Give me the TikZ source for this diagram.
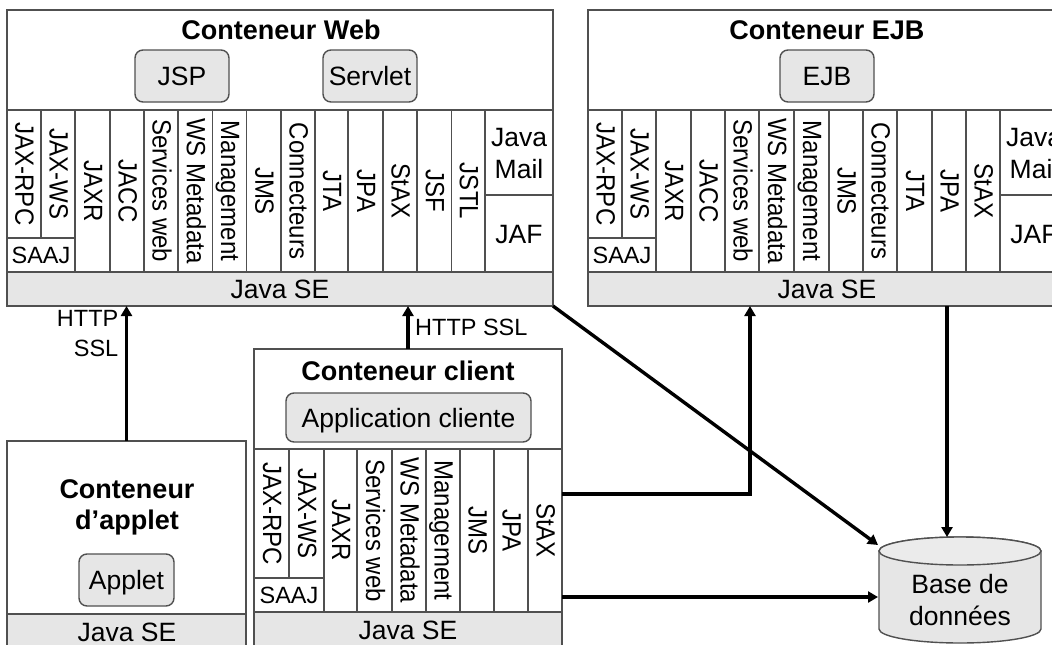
\documentclass[tikz,border=0pt]{standalone}
\usepackage{fontspec}
\usepackage{graphicx}
\setmainfont{Liberation Sans}
\usetikzlibrary{arrows.meta,calc}
\definecolor{lineg}{HTML}{505050}
\definecolor{fillg}{HTML}{E6E6E6}
\tikzset{
  cellline/.style={draw=lineg,line width=1.2pt},
  wrapbox/.style={draw=lineg,line width=1.4pt,fill=white,rectangle,inner sep=0pt,outer sep=0pt},
  sebar/.style={draw=lineg,line width=1.4pt,fill=fillg,rectangle,inner sep=0pt,outer sep=0pt},
  compbox/.style={draw=lineg,line width=1.4pt,fill=fillg,rectangle,rounded corners=8pt,inner sep=0pt,outer sep=0pt},
  lbl/.style={font=\fontsize{26.5}{32}\selectfont,inner sep=0pt,text height=19pt,text depth=0pt},
  small/.style={font=\fontsize{23.5}{30}\selectfont,inner sep=0pt,text height=17pt,text depth=0pt},
  mlbl/.style={font=\fontsize{26.5}{32}\selectfont,inner sep=0pt,align=center},
  ttl/.style={font=\fontsize{27}{30}\selectfont\bfseries,inner sep=0pt,text height=19pt,text depth=0pt},
  vlbl/.style={font=\fontsize{24}{30}\selectfont,inner sep=0pt,rotate=-90,text height=17pt,text depth=0pt},
  flow/.style={draw=black,line width=3.4pt,-{Triangle[length=10pt,width=11pt]}},
}
% name, x1, y1, x2, y2, text
\newcommand\vcell[6]{%
  \draw[cellline] (#2,-#3) rectangle (#4,-#5);
  \node[vlbl] (#1) at ({(#2+#4)/2},{-(#3+#5)/2}) {\scalebox{1}[1.1]{#6}};}
\newcommand\hcell[7][lbl]{%
  \draw[cellline] (#3,-#4) rectangle (#5,-#6);
  \node[#1] (#2) at ({(#3+#5)/2},{-(#4+#6)/2}) {#7};}
\newcommand\mcell[6]{%
  \draw[cellline] (#2,-#3) rectangle (#4,-#5);
  \node[mlbl] (#1) at ({(#2+#4)/2},{-(#3+#5)/2-1}) {#6};}
\newcommand\panel[6]{% name x1 y1 x2 y2 (wrap)
  \node[#6,minimum width={#4-#2},minimum height={#5-#3},anchor=north west] (#1) at (#2,-#3) {};}
\begin{document}
\begin{tikzpicture}[x=1pt,y=1pt]
\useasboundingbox (0,0) rectangle (1052,-645);
\clip (0,0) rectangle (1052,-645);
\fill[white] (0,0) rectangle (1052,-645);

% ---- Web container
\panel{web}{7}{10}{553}{110}{wrapbox}
\node[ttl] (webt) at (281,-30) {Conteneur Web};
\node[compbox,minimum width=94pt,minimum height=52pt,lbl] (jsp) at (182,-76) {JSP};
\node[compbox,minimum width=94pt,minimum height=52pt,lbl] (servlet) at (370,-76) {Servlet};
\vcell{wa}{7}{110}{41}{238}{JAX-RPC}
\vcell{wb}{41}{110}{75}{238}{JAX-WS}
\hcell[small]{wc}{7}{238}{75}{272}{SAAJ}
\vcell{wd}{75}{110}{110}{272}{JAXR}
\vcell{we}{110}{110}{144}{272}{JACC}
\vcell{wf}{144}{110}{178}{272}{Services web}
\vcell{wg}{178}{110}{212.5}{272}{WS Metadata}
\vcell{wh}{212.5}{110}{246.5}{272}{Management}
\vcell{wi}{246.5}{110}{281}{272}{JMS}
\vcell{wj}{281}{110}{315}{272}{Connecteurs}
\vcell{wk}{315}{110}{348}{272}{JTA}
\vcell{wl}{348}{110}{383}{272}{JPA}
\vcell{wm}{383}{110}{417}{272}{StAX}
\vcell{wn}{417}{110}{451.5}{272}{JSF}
\vcell{wo}{451.5}{110}{485}{272}{JSTL}
\mcell{wp}{485}{110}{553}{195}{Java\\Mail}
\hcell{wq}{485}{195}{553}{272}{JAF}
\panel{webse}{7}{272}{553}{306}{sebar}
\node[lbl] (webset) at (webse) {Java SE};

% ---- EJB container
\panel{ejb}{588}{10}{1068}{110}{wrapbox}
\node[ttl] (ejbt) at (827,-30) {Conteneur EJB};
\node[compbox,minimum width=94pt,minimum height=52pt,lbl] (ejbc) at (827,-76) {EJB};
\vcell{ea}{588}{110}{622}{238}{JAX-RPC}
\vcell{eb}{622}{110}{656}{238}{JAX-WS}
\hcell[small]{ec}{588}{238}{656}{272}{SAAJ}
\vcell{ed}{656}{110}{691}{272}{JAXR}
\vcell{ee}{691}{110}{725}{272}{JACC}
\vcell{ef}{725}{110}{759}{272}{Services web}
\vcell{eg}{759}{110}{794}{272}{WS Metadata}
\vcell{eh}{794}{110}{829}{272}{Management}
\vcell{ei}{829}{110}{863}{272}{JMS}
\vcell{ej}{863}{110}{897}{272}{Connecteurs}
\vcell{ek}{897}{110}{932}{272}{JTA}
\vcell{el}{932}{110}{966}{272}{JPA}
\vcell{em}{966}{110}{1000}{272}{StAX}
\mcell{ep}{1000}{110}{1068}{195}{Java\\Mail}
\hcell{eq}{1000}{195}{1068}{272}{JAF}
\panel{ejbse}{588}{272}{1068}{306}{sebar}
\node[lbl] (ejbset) at (827,-289) {Java SE};

% ---- Client container
\panel{client}{254}{349}{562}{449}{wrapbox}
\node[ttl] (clientt) at (408,-371) {Conteneur client};
\node[compbox,minimum width=245pt,minimum height=49pt,lbl] (appc) at (408.5,-417.5) {Application cliente};
\vcell{ca}{254}{449}{289}{578}{JAX-RPC}
\vcell{cb}{289}{449}{324}{578}{JAX-WS}
\hcell[small]{cc}{254}{578}{324}{612}{SAAJ}
\vcell{cd}{324}{449}{357}{612}{JAXR}
\vcell{cf}{357}{449}{392}{612}{Services web}
\vcell{cg}{392}{449}{426}{612}{WS Metadata}
\vcell{ch}{426}{449}{460}{612}{Management}
\vcell{ci}{460}{449}{494}{612}{JMS}
\vcell{cl}{494}{449}{528}{612}{JPA}
\vcell{cm}{528}{449}{562}{612}{StAX}
\panel{clientse}{254}{612}{562}{650}{sebar}
\node[lbl] (clientset) at (408,-630) {Java SE};

% ---- Applet container
\panel{applet}{7}{441}{246}{614}{wrapbox}
\node[inner sep=0pt,align=center,font=\fontsize{27}{31}\selectfont\bfseries] (applett) at (127,-507) {Conteneur\\d’applet};
\node[compbox,minimum width=95pt,minimum height=52pt,lbl] (appletc) at (126.5,-580) {Applet};
\panel{appletse}{7}{614}{246}{650}{sebar}
\node[lbl] (appletset) at (127,-632) {Java SE};

% ---- Database
\path[draw=lineg,line width=1.4pt,fill=fillg]
  (879,-551) -- (879,-629) arc[x radius=81,y radius=14,start angle=180,end angle=360]
  -- (1041,-551) arc[x radius=81,y radius=14,start angle=0,end angle=180] -- cycle;
\path[draw=lineg,line width=1.4pt,fill=fillg!80!white]
  (960,-551) ellipse[x radius=81,y radius=14];
\node[inner sep=0pt,minimum width=162pt,minimum height=106pt] (db) at (960,-590) {};
\node[mlbl] (dbt) at (960,-600) {Base de\\données};
\coordinate (dbnw) at (878,-545);
\coordinate (dbw) at (878,-597);
\coordinate (dbn) at (947,-537);
\coordinate (clientup) at (562,-494);
\coordinate (clientdn) at (562,-597);
\coordinate (elbow) at (750,-494);

% ---- Connectors
\draw[flow] (applet.north) -- (webse.south -| applet.north);
\draw[flow] (client.north) -- (webse.south -| client.north);
\draw[flow] (webse.south east) -- (dbnw);
\draw[flow] (dbn |- ejbse.south) -- (dbn);
\draw[flow] (clientup) -- (elbow) -- (elbow |- ejbse.south);
\draw[flow] (clientdn) -- (dbw);

% ---- Connector labels
\node[font=\fontsize{23.5}{30}\selectfont,inner sep=0pt,align=right,anchor=east] (http1) at (118.5,-334) {HTTP\\SSL};
\node[small,anchor=west] (http2) at (415,-327) {HTTP SSL};
\end{tikzpicture}
\end{document}
